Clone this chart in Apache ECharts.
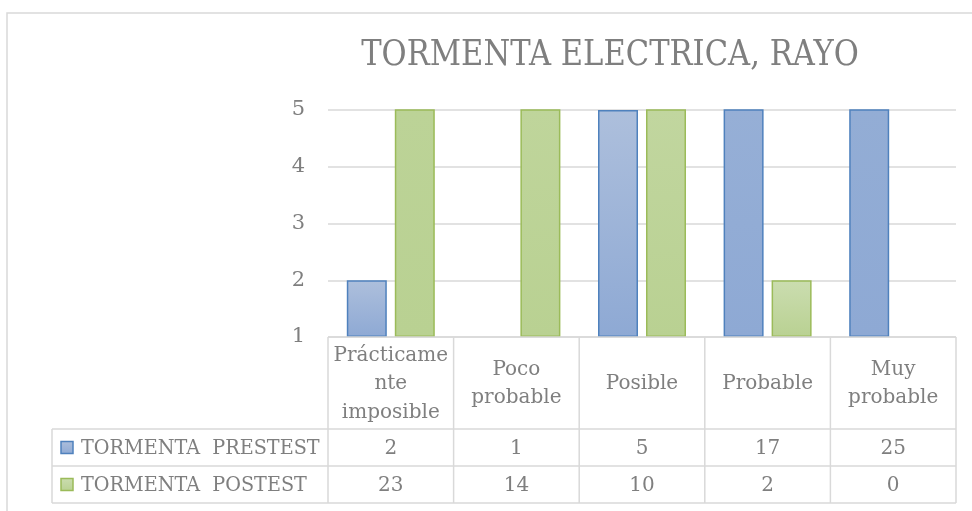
<!DOCTYPE html>
<html><head><meta charset="utf-8">
<script src="https://cdn.jsdelivr.net/npm/echarts@6/dist/echarts.min.js"></script>
<style>html,body{margin:0;padding:0;background:#fff}#c{width:972px;height:511px}</style>
</head><body><div id="c"></div>
<script>
const chartTitle = 'TORMENTA ELECTRICA, RAYO';
const categories = ['Prácticame\nnte\nimposible', 'Poco\nprobable', 'Posible', 'Probable', 'Muy\nprobable'];
const seriesNames = ['TORMENTA  PRESTEST', 'TORMENTA  POSTEST'];
const prestest = [2, 1, 5, 17, 25];
const postest = [23, 14, 10, 2, 0];
const yMin = 1, yMax = 5, yInterval = 1;

const FONT = '"DejaVu Serif", "Liberation Serif", serif';
const TXT = '#7f7f7f';
const LINE = '#d9d9d9';
const L = { gridL: 328, gridR: 956, gridT: 110, gridB: 337, catB: 429, row1B: 466, row2B: 503, legL: 52 };
const palette = [
  { top: '#adbfdc', bot: '#8ea9d4', border: '#4f81bd' },
  { top: '#cbddb0', bot: '#b9d192', border: '#9bbb59' }
];

function hex2rgb(h) { return [1, 3, 5].map(i => parseInt(h.substr(i, 2), 16)); }
function mix(a, b, t) {
  const A = hex2rgb(a), B = hex2rgb(b);
  return 'rgb(' + A.map((x, i) => Math.round(x + (B[i] - x) * t)).join(',') + ')';
}
function itemColor(v, p) {
  if (v <= yMin) return p.bot;
  const vis = Math.min(v, yMax);
  const f = (vis - yMin) / (v - yMin);
  return new echarts.graphic.LinearGradient(0, 0, 0, 1, [
    { offset: 0, color: mix(p.bot, p.top, f) },
    { offset: 1, color: p.bot }
  ]);
}
function makeSeries(name, data, p) {
  return {
    name, type: 'bar',
    data: data.map(v => ({ value: v, itemStyle: { color: itemColor(v, p), borderWidth: v === yMin ? 0 : 1.5 } })),
    barWidth: 40, barGap: '20%', clip: true,
    itemStyle: { borderColor: p.border, borderWidth: 1.5 },
    emphasis: { disabled: true }, silent: true
  };
}

const chart = echarts.init(document.getElementById('c'), null, { renderer: 'canvas' });

const graphics = [];
// outer chart frame
graphics.push({ type: 'rect', shape: { x: 7, y: 13, width: 1100, height: 700 }, style: { fill: null, stroke: LINE, lineWidth: 1.5 }, silent: true, z: 0 });
// title
graphics.push({ type: 'text', x: 610, y: 56, scaleX: 0.85, silent: true, z: 11,
  style: { text: chartTitle, fill: TXT, font: '36px ' + FONT, align: 'center', verticalAlign: 'middle' } });
const colW = (L.gridR - L.gridL) / categories.length;
function hline(y, x1, x2) { graphics.push({ type: 'line', shape: { x1, y1: y, x2, y2: y }, style: { stroke: LINE, lineWidth: 1.5 }, silent: true, z: 10 }); }
function vline(x, y1, y2) { graphics.push({ type: 'line', shape: { x1: x, y1, x2: x, y2 }, style: { stroke: LINE, lineWidth: 1.5 }, silent: true, z: 10 }); }
hline(L.gridB, L.gridL, L.gridR);
hline(L.catB, L.legL, L.gridR);
hline(L.row1B, L.legL, L.gridR);
hline(L.row2B, L.legL, L.gridR);
for (let i = 0; i <= categories.length; i++) vline(L.gridL + i * colW, L.gridB, L.row2B);
vline(L.legL, L.catB, L.row2B);

function txt(s, x, y, align, sx) {
  graphics.push({ type: 'text', x, y, scaleX: sx || 1, silent: true, z: 11,
    style: { text: s, fill: TXT, font: '20px ' + FONT, align: align || 'center', verticalAlign: 'middle', lineHeight: 28.5 } });
}
categories.forEach((c, i) => txt(c, L.gridL + (i + 0.5) * colW, (L.gridB + L.catB) / 2 + 1));
const rows = [prestest, postest];
rows.forEach((arr, r) => {
  const yTop = r === 0 ? L.catB : L.row1B, yBot = r === 0 ? L.row1B : L.row2B;
  const yc = (yTop + yBot) / 2 + 1;
  arr.forEach((v, i) => txt(String(v), L.gridL + (i + 0.5) * colW, yc));
  const p = palette[r];
  graphics.push({ type: 'rect', shape: { x: 61, y: yc - 7, width: 12, height: 12 }, silent: true, z: 11,
    style: { fill: new echarts.graphic.LinearGradient(0, 0, 0, 1, [{ offset: 0, color: p.top }, { offset: 1, color: p.bot }]), stroke: p.border, lineWidth: 1.5 } });
  txt(seriesNames[r], 81, yc, 'left', 0.96);
});

chart.setOption({
  animation: false,
  backgroundColor: '#ffffff',
  grid: { left: L.gridL, right: 972 - L.gridR, top: L.gridT, bottom: 511 - L.gridB, containLabel: false },
  xAxis: {
    type: 'category', data: categories.map(c => c.replace(/\n/g, '')),
    axisLine: { show: false }, axisTick: { show: false }, axisLabel: { show: false }, splitLine: { show: false }
  },
  yAxis: {
    type: 'value', min: yMin, max: yMax, interval: yInterval, startValue: yMin,
    axisLine: { show: false }, axisTick: { show: false },
    axisLabel: { color: TXT, fontFamily: FONT, fontSize: 21, margin: 23 },
    splitLine: { lineStyle: { color: LINE, width: 1.5 } }
  },
  series: [makeSeries(seriesNames[0], prestest, palette[0]), makeSeries(seriesNames[1], postest, palette[1])],
  graphic: graphics
});
</script></body></html>
